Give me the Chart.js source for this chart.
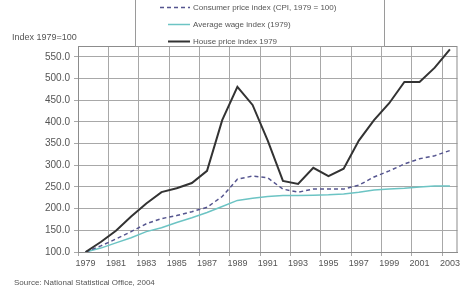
<!DOCTYPE html>
<html>
<head>
<meta charset="utf-8">
<script src="https://cdn.jsdelivr.net/npm/chart.js@4.4.1/dist/chart.umd.min.js"></script>
<style>
html,body{margin:0;padding:0;background:#fff;}
canvas{display:block;}
</style>
</head>
<body>
<canvas id="c" width="462" height="289" style="width:462px;height:289px"></canvas>
<script>
const years = ['1979','1980','1981','1982','1983','1984','1985','1986','1987','1988','1989','1990','1991','1992','1993','1994','1995','1996','1997','1998','1999','2000','2001','2002','2003'];
const houseIndex = [100,123,149,182,212,238,247,259,287,404,481,439,357,264,257,294,275,292,357,404,443,492,492,525,567];
const cpiIndex   = [100,114,130,147,165,177,184,193,203,228,268,275,271,245,238,245,245,245,254,273,287,303,315,322,334];
const wageIndex  = [100,109,121,133,147,156,168,179,191,205,219,224,228,230,230,231,232,234,238,243,245,247,250,252,252];
const yTickValues = [100,150,200,250,300,350,400,450,500,550];
const seriesNames = ['House price index 1979','Consumer price index (CPI, 1979 = 100)','Average wage index (1979)'];
const yTitle = 'Index 1979=100';
const sourceNote = 'Source: National Statistical Office, 2004';

const FONT = '"Liberation Sans", Arial, sans-serif';

const extras = {
  id: 'extras',
  afterDraw(chart) {
    const ctx = chart.ctx;
    const a = chart.chartArea;
    ctx.save();
    ctx.strokeStyle = '#8c8c8c';
    ctx.lineWidth = 1;
    ctx.strokeRect(a.left + 0.5, a.top + 0.5, a.right - a.left - 1, a.bottom - a.top);
    ctx.fillStyle = '#fff';
    ctx.fillRect(135, -2, 250, 49);
    ctx.strokeStyle = '#9a9a9a';
    ctx.strokeRect(135.5, -2.5, 249, 49);
    const rows = [
      {y: 7,  color: '#55558f', dash: [4,3], w: 1.5, x0: 160, name: seriesNames[1]},
      {y: 24, color: '#6cc4c4', dash: [],    w: 1.5, x0: 168, name: seriesNames[2]},
      {y: 41, color: '#333333', dash: [],    w: 2,   x0: 168, name: seriesNames[0]}
    ];
    ctx.font = '8px ' + FONT;
    ctx.textBaseline = 'middle';
    ctx.textAlign = 'left';
    rows.forEach(r => {
      ctx.beginPath();
      ctx.setLineDash(r.dash);
      ctx.strokeStyle = r.color;
      ctx.lineWidth = r.w;
      ctx.moveTo(r.x0, r.y + 0.5);
      ctx.lineTo(190, r.y + 0.5);
      ctx.stroke();
      ctx.setLineDash([]);
      ctx.fillStyle = '#555';
      ctx.fillText(r.name, 193, r.y + 0.5);
    });
    ctx.font = '9px ' + FONT;
    ctx.fillStyle = '#555';
    ctx.fillText(yTitle, 12, 38);
    ctx.font = '8px ' + FONT;
    ctx.fillText(sourceNote, 14, 283);
    ctx.restore();
  }
};

new Chart(document.getElementById('c'), {
  type: 'line',
  data: {
    labels: years,
    datasets: [
      {label: seriesNames[0], data: houseIndex, borderColor: '#333333', borderWidth: 2, pointRadius: 0, tension: 0, fill: false},
      {label: seriesNames[1], data: cpiIndex, borderColor: '#55558f', borderWidth: 1.5, borderDash: [4,3], pointRadius: 0, tension: 0, fill: false},
      {label: seriesNames[2], data: wageIndex, borderColor: '#6cc4c4', borderWidth: 1.5, pointRadius: 0, tension: 0, fill: false}
    ]
  },
  options: {
    responsive: false,
    animation: false,
    layout: {padding: {left: 0, right: 4, top: 46, bottom: 17}},
    plugins: {legend: {display: false}, tooltip: {enabled: false}},
    scales: {
      x: {
        offset: true,
        grid: {
          offset: true,
          color: c => (c.index % 2 === 0 ? '#a8a8a8' : 'rgba(0,0,0,0)'),
          lineWidth: 1,
          tickLength: 4
        },
        border: {display: true, color: '#8c8c8c'},
        ticks: {
          autoSkip: false, maxRotation: 0, minRotation: 0,
          color: '#555', padding: 2,
          font: {family: FONT, size: 9},
          callback: (v, i) => (i % 2 === 0 ? years[i] : '')
        },
        afterFit: s => { s.height = 20; }
      },
      y: {
        min: 100, max: 575,
        grid: {color: '#a8a8a8', lineWidth: 1, tickLength: 4},
        border: {display: true, color: '#8c8c8c'},
        afterBuildTicks: s => { s.ticks = yTickValues.map(v => ({value: v})); },
        ticks: {
          color: '#555', padding: 4,
          font: {family: FONT, size: 10},
          callback: v => Number(v).toFixed(1)
        },
        afterFit: s => { s.width = 78; }
      }
    }
  },
  plugins: [extras]
});
</script>
</body>
</html>
